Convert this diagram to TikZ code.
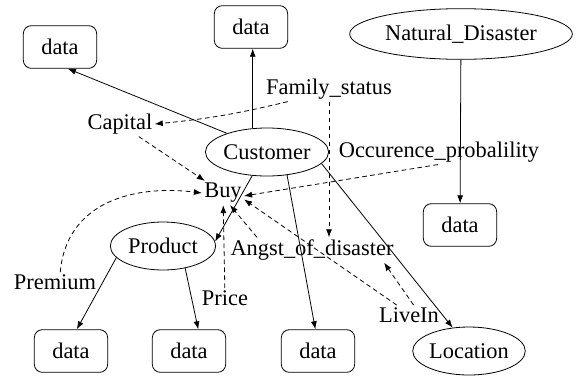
\documentclass[tikz,border=0pt]{standalone}
\usepackage{fontspec}
\setmainfont{Liberation Serif}
\usetikzlibrary{arrows.meta,shapes.geometric}
\tikzset{
  databox/.style={draw,rounded corners=6pt,minimum width=55pt,minimum height=32pt,inner sep=0pt},
  entity/.style={draw,ellipse,inner sep=0pt},
  attr/.style={inner sep=1.5pt},
  dep/.style={dash pattern=on 3.5pt off 2.5pt},
}

\begin{document}
\begin{tikzpicture}[x=0.75pt,y=-0.75pt,line width=0.6pt,
    >={Latex[length=6pt,width=4.5pt]},
    every node/.style={font=\fontsize{16.8}{19}\selectfont}]
  \useasboundingbox (0,0) rectangle (577,379);
  % boxes
  \node[databox] (d1) at (60,47) {data};
  \node[databox] (d2) at (251,27) {data};
  \node[databox] (d3) at (460,225) {data};
  \node[databox] (d4) at (71,351) {data};
  \node[databox] (d5) at (189,351) {data};
  \node[databox] (d6) at (318,351) {data};
  % entities
  \node[entity,minimum width=167pt,minimum height=38pt] (nd) at (461,34) {Natural\_Disaster};
  \node[entity,minimum width=89pt,minimum height=36pt] (cust) at (267,152) {Customer};
  \node[entity,minimum width=79pt,minimum height=36pt] (prod) at (163,246) {Product};
  \node[entity,minimum width=83pt,minimum height=36pt] (loc) at (469,351) {Location};
  % attributes
  \node[attr] (buy) at (223,193) {Buy};
  \node[attr] (cap) at (120,124) {Capital};
  \node[attr] (fam) at (329,89) {Family\_status};
  \node[attr] (occ) at (439,152) {Occurence\_probalility};
  \node[attr] (angst) at (312,250) {Angst\_of\_disaster};
  \node[attr] (prem) at (55,282) {Premium};
  \node[attr] (price) at (225,298) {Price};
  \node[attr] (live) at (409,315) {LiveIn};

  % solid links
  \draw[->] (cust.155) -- (d1.-70);
  \draw[->] (cust.121) -- (cust.121 |- d2.south);
  \draw[->] (nd) -- (d3);
  \draw[->] (cust.238) -- (prod.5);
  \draw[->] (cust.311) -- (d6.97);
  \draw[->] (cust.348) -- (loc.125);
  \draw[->] (prod.194) -- (d4.75);
  \draw[->] (prod.315) -- (d5.67);

  % dashed links
  \draw[dep,->] (fam.197) to[bend left=4] (cap.east);
  \draw[dep,->] (cap) -- (buy);
  \draw[dep,->] (fam.south) -- (fam.south |- angst.north);
  \draw[dep,->] (occ.-95) -- (buy.-8);
  \draw[dep,->] (prem.62) to[out=85,in=173,looseness=1.1] (buy.west);
  \draw[dep,->] (price) -- (buy);
  \draw[dep,->] (angst.167) -- (buy.-60);
  \draw[dep,->] (live.141) -- (buy.-17);
  \draw[dep,->] (live.65) -- (angst.-10);
\end{tikzpicture}
\end{document}
